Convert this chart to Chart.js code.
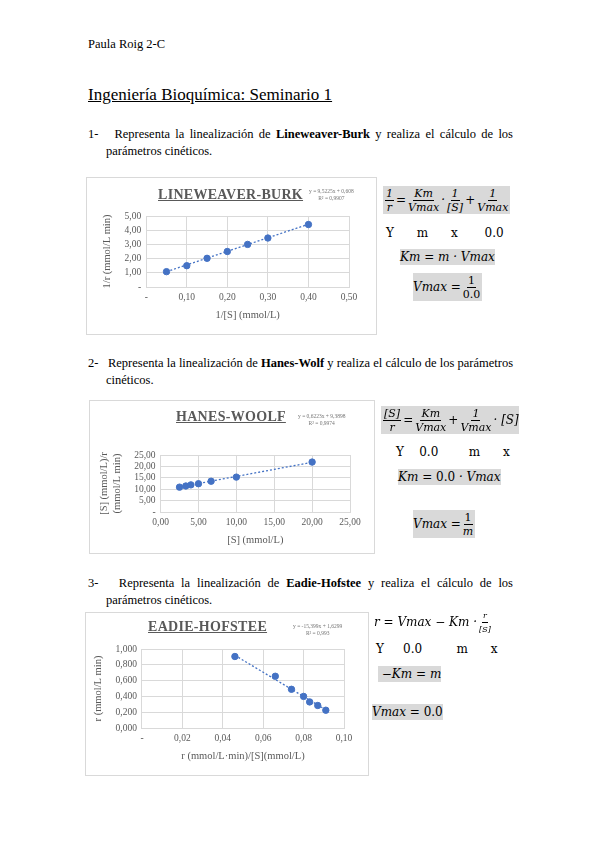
<!DOCTYPE html>
<html><head><meta charset="utf-8">
<script src="https://cdn.jsdelivr.net/npm/chart.js@4"></script>
<style>
body{margin:0;background:#fff;font-family:"Liberation Serif",serif;color:#000;}
.abs{position:absolute;}
.p{position:absolute;left:88px;width:425px;font-size:12.5px;line-height:17px;text-align:justify;text-align-last:left;padding-left:18px;text-indent:-18px;box-sizing:border-box;}
.box{position:absolute;border:1px solid #d9d9d9;background:#fff;}
.box canvas{position:absolute;left:0;top:0;}
.ct{position:absolute;font-weight:bold;text-decoration:underline;color:#595959;font-size:14px;letter-spacing:0.3px;}
.eq{position:absolute;font-size:5.5px;color:#777;text-align:center;line-height:7px;}
.m{position:absolute;font-family:"DejaVu Serif",serif;font-style:italic;font-size:12px;white-space:nowrap;display:flex;align-items:center;}
.g{background:#d9d9d9;}
.f{display:inline-flex;flex-direction:column;align-items:center;margin:0 2px;vertical-align:middle;font-size:11px;}
.f span:first-child{border-bottom:1px solid #000;padding:0 1px;}
.f span{line-height:13px;}
.n{font-style:normal;}
</style></head><body>
<div class="abs" style="left:88px;top:37px;font-size:12.5px;">Paula Roig 2-C</div>
<div class="abs" style="left:88px;top:85px;font-size:17px;text-decoration:underline;">Ingeniería Bioquímica: Seminario 1</div>

<div class="p" style="top:126px;">1-&nbsp;&nbsp; Representa la linealización de <b>Lineweaver-Burk</b> y realiza el cálculo de los parámetros cinéticos.</div>
<div class="p" style="top:355px;">2-&nbsp;&nbsp; Representa la linealización de <b>Hanes-Wolf</b> y realiza el cálculo de los parámetros cinéticos.</div>
<div class="p" style="top:575px;">3-&nbsp;&nbsp; Representa la linealización de <b>Eadie-Hofstee</b> y realiza el cálculo de los parámetros cinéticos.</div>

<div class="box" style="left:86px;top:177px;width:289px;height:156px;"><canvas id="c1" width="289" height="156"></canvas>
<div class="ct" style="left:71px;top:9px;">LINEWEAVER-BURK</div>
<div class="eq" style="left:222px;top:10px;">y = 9,5225x + 0,608<br>R² = 0,9907</div></div>

<div class="box" style="left:89px;top:400px;width:284px;height:152px;"><canvas id="c2" width="284" height="152"></canvas>
<div class="ct" style="left:86px;top:8px;">HANES-WOOLF</div>
<div class="eq" style="left:208px;top:12px;">y = 0,6223x + 9,3898<br>R² = 0,9974</div></div>

<div class="box" style="left:85px;top:612px;width:282px;height:162px;"><canvas id="c3" width="282" height="162"></canvas>
<div class="ct" style="left:62px;top:6px;">EADIE-HOFSTEE</div>
<div class="eq" style="left:207px;top:10px;">y = -15,399x + 1,6299<br>R² = 0,993</div></div>

<!-- formulas 1 -->
<div class="m g" style="left:383px;top:186px;height:28px;"><span class="f"><span>1</span><span>r</span></span>=<span class="f"><span>Km</span><span>Vmax</span></span>·<span class="f"><span>1</span><span>[S]</span></span>+<span class="f"><span>1</span><span>Vmax</span></span></div>
<div class="m n" style="left:386px;top:226px;font-size:12px;font-style:normal;">Y&nbsp;&nbsp;&nbsp;&nbsp;&nbsp; m&nbsp;&nbsp;&nbsp;&nbsp;&nbsp; x&nbsp;&nbsp;&nbsp;&nbsp;&nbsp;&nbsp; 0.0</div>
<div class="m g" style="left:400px;top:249px;height:16px;">Km = m · Vmax</div>
<div class="m g" style="left:413px;top:273px;height:28px;">Vmax =<span class="f"><span class="n">1</span><span class="n">0.0</span></span></div>

<!-- formulas 2 -->
<div class="m g" style="left:381px;top:406px;height:28px;"><span class="f"><span>[S]</span><span>r</span></span>=<span class="f"><span>Km</span><span>Vmax</span></span>+<span class="f"><span>1</span><span>Vmax</span></span>· [S]</div>
<div class="m" style="left:396px;top:445px;font-size:12px;font-style:normal;">Y&nbsp;&nbsp;&nbsp; 0.0&nbsp;&nbsp;&nbsp;&nbsp;&nbsp;&nbsp;&nbsp; m&nbsp;&nbsp;&nbsp;&nbsp;&nbsp; x</div>
<div class="m g" style="left:398px;top:469px;height:16px;">Km = <span class="n">&nbsp;0.0&nbsp;</span> · Vmax</div>
<div class="m g" style="left:413px;top:510px;height:28px;">Vmax =<span class="f"><span class="n">1</span><span>m</span></span></div>

<!-- formulas 3 -->
<div class="m" style="left:374px;top:609px;height:26px;">r = Vmax − Km ·<span class="f" style="font-size:8px;"><span>r</span><span>[S]</span></span></div>
<div class="m" style="left:376px;top:642px;font-size:12px;font-style:normal;">Y&nbsp;&nbsp;&nbsp;&nbsp; 0.0&nbsp;&nbsp;&nbsp;&nbsp;&nbsp;&nbsp;&nbsp;&nbsp; m&nbsp;&nbsp;&nbsp;&nbsp;&nbsp; x</div>
<div class="m g" style="left:378px;top:666px;height:16px;">&nbsp;−Km = m</div>
<div class="m g" style="left:372px;top:704px;height:16px;">Vmax = <span class="n">&nbsp;0.0</span></div>

<script>
// Lineweaver-Burk
const lbX=[0.05,0.10,0.15,0.20,0.25,0.30,0.40];
const lbY=[1.08,1.50,2.02,2.50,3.00,3.45,4.40];
const lbTrendX=[0.05,0.40];
const lbTrendY=[1.08,4.42];
// Hanes-Woolf
const hwX=[2.5,3.33,4.0,5.0,6.67,10.0,20.0];
const hwY=[10.9,11.4,11.9,12.4,13.5,15.3,21.9];
const hwTrendX=[2.5,20.0];
const hwTrendY=[10.95,21.8];
// Eadie-Hofstee
const ehX=[0.046,0.066,0.074,0.080,0.083,0.087,0.091];
const ehY=[0.905,0.655,0.490,0.400,0.330,0.285,0.225];
const ehTrendX=[0.046,0.091];
const ehTrendY=[0.92,0.23];

const blue='#4472c4', grid='#d9d9d9', tc='#595959';
const tf={family:'Liberation Serif',size:9.5};
function fmt(d){return v=>Math.abs(v)<1e-9?'-':v.toFixed(d).replace('.',',');}
function pts(xs,ys){return xs.map((x,i)=>({x:x,y:ys[i]}));}
function mk(id,xs,ys,tx,ty,xo,yo,pad){
 new Chart(document.getElementById(id),{type:'scatter',
  data:{datasets:[
   {data:pts(xs,ys),backgroundColor:blue,borderColor:blue,pointRadius:3.2,showLine:false,order:1},
   {data:pts(tx,ty),borderColor:blue,borderWidth:1.3,borderDash:[2,2],pointRadius:0,showLine:true,fill:false,order:2}]},
  options:{responsive:false,animation:false,layout:{padding:pad},
   plugins:{legend:{display:false},tooltip:{enabled:false}},
   scales:{
    x:{min:xo.min,max:xo.max,grid:{color:grid,drawTicks:false},border:{color:grid},
      ticks:{stepSize:xo.step,autoSkip:false,maxRotation:0,color:tc,font:tf,padding:5,callback:xo.cb},
      title:{display:true,text:xo.t,color:tc,font:{family:'Liberation Serif',size:10.5},padding:{top:1}}},
    y:{min:yo.min,max:yo.max,grid:{color:grid,drawTicks:false},border:{display:false},
      ticks:{stepSize:yo.step,autoSkip:false,color:tc,font:tf,padding:5,callback:yo.cb},
      title:{display:true,text:yo.t,color:tc,font:{family:'Liberation Serif',size:10.5},padding:{bottom:6}}}
   }}});
}
mk('c1',lbX,lbY,lbTrendX,lbTrendY,
 {t:'1/[S] (mmol/L)',cb:fmt(2),min:0,max:0.5,step:0.1},
 {t:'1/r (mmol/L min)',cb:fmt(2),min:0,max:5,step:1},
 {left:10,right:27,top:38,bottom:8});
mk('c2',hwX,hwY,hwTrendX,hwTrendY,
 {t:'[S] (mmol/L)',cb:v=>v.toFixed(2).replace('.',','),min:0,max:25,step:5},
 {t:['[S] (mmol/L)/r','(mmol/L min)'],cb:fmt(2),min:0,max:25,step:5},
 {left:4,right:24,top:54,bottom:2});
mk('c3',ehX,ehY,ehTrendX,ehTrendY,
 {t:'r (mmol/L·min)/[S](mmol/L)',cb:fmt(2),min:0,max:0.1,step:0.02},
 {t:'r (mmol/L min)',cb:v=>v.toFixed(3).replace('.',','),min:0,max:1,step:0.2},
 {left:2,right:24,top:36,bottom:8});
</script>
</body></html>
